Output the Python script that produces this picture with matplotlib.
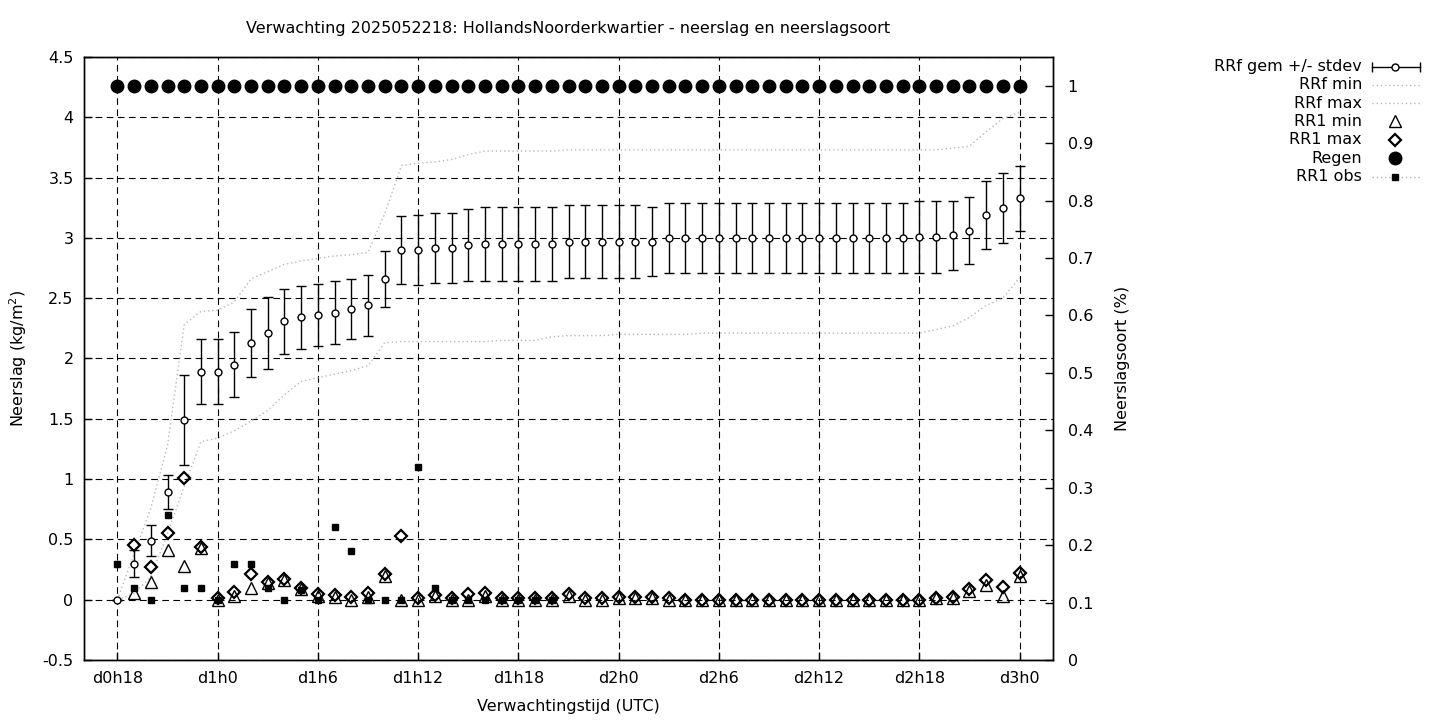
import numpy as np
import matplotlib
matplotlib.use("Agg")
import matplotlib.pyplot as plt
from matplotlib.lines import Line2D

plt.rcParams['font.family'] = ['DejaVu Sans']

# ---------------- data ----------------
hours = list(range(55))
xtick_hours = [0, 6, 12, 18, 24, 30, 36, 42, 48, 54]
xtick_labels = ["d0h18", "d1h0", "d1h6", "d1h12", "d1h18", "d2h0", "d2h6", "d2h12", "d2h18", "d3h0"]
left_ticks = [-0.5, 0, 0.5, 1, 1.5, 2, 2.5, 3, 3.5, 4, 4.5]
right_ticks = [0, 0.1, 0.2, 0.3, 0.4, 0.5, 0.6, 0.7, 0.8, 0.9, 1]

rrf_mean = [0.00, 0.30, 0.49, 0.89, 1.49, 1.89, 1.89, 1.95, 2.13, 2.21,
            2.31, 2.34, 2.36, 2.38, 2.41, 2.44, 2.66, 2.90, 2.90, 2.92,
            2.92, 2.94, 2.95, 2.95, 2.95, 2.95, 2.95, 2.97, 2.97, 2.97,
            2.97, 2.97, 2.97, 3.00, 3.00, 3.00, 3.00, 3.00, 3.00, 3.00,
            3.00, 3.00, 3.00, 3.00, 3.00, 3.00, 3.00, 3.00, 3.01, 3.01,
            3.02, 3.06, 3.19, 3.25, 3.33]
rrf_std = [0.00, 0.11, 0.13, 0.14, 0.37, 0.27, 0.27, 0.27, 0.28, 0.30,
           0.27, 0.26, 0.26, 0.26, 0.25, 0.25, 0.23, 0.28, 0.29, 0.29,
           0.29, 0.30, 0.31, 0.31, 0.31, 0.31, 0.31, 0.30, 0.30, 0.30,
           0.30, 0.30, 0.29, 0.29, 0.29, 0.29, 0.29, 0.29, 0.29, 0.29,
           0.29, 0.29, 0.29, 0.29, 0.29, 0.29, 0.29, 0.29, 0.30, 0.30,
           0.29, 0.28, 0.28, 0.29, 0.27]
rrf_min = [0.00, 0.05, 0.19, 0.55, 0.94, 1.31, 1.34, 1.40, 1.48, 1.57,
           1.70, 1.81, 1.84, 1.87, 1.90, 1.94, 2.13, 2.14, 2.14, 2.14,
           2.14, 2.14, 2.14, 2.15, 2.15, 2.15, 2.18, 2.19, 2.19, 2.19,
           2.20, 2.20, 2.20, 2.20, 2.20, 2.21, 2.21, 2.21, 2.21, 2.21,
           2.21, 2.21, 2.21, 2.21, 2.21, 2.21, 2.21, 2.21, 2.21, 2.24,
           2.27, 2.34, 2.44, 2.50, 2.67]
rrf_max = [0.00, 0.38, 0.76, 1.28, 2.28, 2.39, 2.40, 2.47, 2.66, 2.72,
           2.78, 2.81, 2.83, 2.85, 2.86, 2.88, 3.20, 3.60, 3.62, 3.63,
           3.65, 3.69, 3.72, 3.72, 3.72, 3.72, 3.72, 3.73, 3.73, 3.73,
           3.73, 3.73, 3.73, 3.73, 3.73, 3.73, 3.73, 3.73, 3.73, 3.73,
           3.73, 3.73, 3.73, 3.73, 3.73, 3.73, 3.73, 3.73, 3.73, 3.73,
           3.745, 3.76, 3.88, 3.99, 4.04]
rr1_min = [None, 0.055, 0.15, 0.41, 0.28, 0.43, 0.00, 0.03, 0.10, 0.14,
           0.16, 0.085, 0.03, 0.025, 0.00, 0.02, 0.195, 0.00, 0.00, 0.03,
           0.00, 0.00, 0.03, 0.00, 0.00, 0.00, 0.00, 0.03, 0.00, 0.00,
           0.01, 0.01, 0.01, 0.00, 0.00, 0.00, 0.00, 0.00, 0.00, 0.00,
           0.00, 0.00, 0.00, 0.00, 0.00, 0.00, 0.00, 0.00, 0.00, 0.01,
           0.01, 0.07, 0.12, 0.03, 0.20]
rr1_max = [None, 0.45, 0.27, 0.55, 1.01, 0.44, 0.01, 0.06, 0.215, 0.15,
           0.17, 0.10, 0.045, 0.04, 0.02, 0.055, 0.215, 0.53, 0.01, 0.035,
           0.015, 0.047, 0.055, 0.014, 0.014, 0.014, 0.014, 0.047, 0.01, 0.01,
           0.02, 0.02, 0.02, 0.01, 0.00, 0.00, 0.00, 0.00, 0.00, 0.00,
           0.00, 0.00, 0.00, 0.00, 0.00, 0.00, 0.00, 0.00, 0.00, 0.015,
           0.02, 0.09, 0.16, 0.105, 0.22]
regen = [1, 1, 1, 1, 1, 1, 1, 1, 1, 1, 1, 1, 1, 1, 1, 1, 1, 1, 1, 1,
         1, 1, 1, 1, 1, 1, 1, 1, 1, 1, 1, 1, 1, 1, 1, 1, 1, 1, 1, 1,
         1, 1, 1, 1, 1, 1, 1, 1, 1, 1, 1, 1, 1, 1, 1]
rr1_obs = [0.30, 0.10, 0.00, 0.70, 0.10, 0.10, 0.00, 0.30, 0.30, 0.10,
           0.00, 0.08, 0.00, 0.60, 0.40, 0.00, 0.00, 0.00, 1.10, 0.10,
           0.00, 0.00, 0.00, 0.00, 0.00, 0.00, 0.00]

title = "Verwachting 2025052218: HollandsNoorderkwartier - neerslag en neerslagsoort"
legend_labels = ["RRf gem +/- stdev", "RRf min", "RRf max", "RR1 min", "RR1 max", "Regen", "RR1 obs"]

# ---------------- style ----------------
FS = 11.5
W, H = 1440, 720
GREY = "#b8b8b8"
DOT = (0, (1, 2))

def fx(px):
    return px / W

def fy(py):
    return 1 - py / H

def fmt(v, pos=None):
    return f"{round(v, 3):g}"

fig = plt.figure(figsize=(14.4, 7.2), dpi=100)
ax = fig.add_axes([fx(84), fy(660), (1053 - 84) / W, (660 - 57) / H])
ax.set_xlim(-2, 56)
ax.set_ylim(-0.5, 4.5)

ax.set_xticks(xtick_hours, xtick_labels)
ax.set_yticks(left_ticks)
ax.yaxis.set_major_formatter(matplotlib.ticker.FuncFormatter(fmt))
ax.tick_params(axis='both', direction='in', length=6, width=1, labelsize=FS,
               top=False, right=False)
ax.tick_params(axis='x', pad=8)
ax.tick_params(axis='y', pad=7.5)
ax.grid(True, color='black', linestyle=(0, (6, 4)), linewidth=0.8)
ax.set_axisbelow(True)
for s in ax.spines.values():
    s.set_linewidth(1.0)
    s.set_color('black')

y_mean = np.array(rrf_mean, dtype=float)
y_std = np.array(rrf_std, dtype=float)
ax.errorbar(hours, y_mean, yerr=y_std, fmt='o', ms=5, mfc='white', mec='black', mew=1,
            ecolor='black', elinewidth=1, capsize=3.3, capthick=1, zorder=3)
ax.plot(hours, rrf_min, color=GREY, lw=1, linestyle=DOT, zorder=2)
ax.plot(hours, rrf_max, color=GREY, lw=1, linestyle=DOT, zorder=2)
ax.plot(hours, np.array(rr1_min, dtype=float), linestyle='none', marker='^', ms=9,
        mfc='none', mec='black', mew=1, zorder=4)
ax.plot(hours, np.array(rr1_max, dtype=float), linestyle='none', marker='D', ms=6.2,
        mfc='none', mec='black', mew=1.6, zorder=5)
ax.plot(hours[:len(rr1_obs)], rr1_obs, linestyle='none', marker='s', ms=4.6,
        color='black', zorder=6)

ax2 = ax.twinx()
ax2.set_ylim(0, 1.05)
ax2.set_yticks(right_ticks)
ax2.yaxis.set_major_formatter(matplotlib.ticker.FuncFormatter(fmt))
ax2.tick_params(axis='y', direction='in', length=6, width=1, labelsize=FS, pad=10.5)
for s in ax2.spines.values():
    s.set_linewidth(1.0)
ax2.plot(hours, regen, linestyle='none', marker='o', ms=9, color='black', zorder=5)

# ---------------- texts ----------------
fig.text(fx(568.5), fy(29), title, ha='center', va='center', fontsize=FS)
fig.text(fx(568.5), fy(706), "Verwachtingstijd (UTC)", ha='center', va='center', fontsize=FS)
fig.text(fx(18), fy(358), "Neerslag (kg/m$^2$)", ha='center', va='center', rotation=90, fontsize=FS)
fig.text(fx(1123), fy(358), "Neerslagsoort (%)", ha='center', va='center', rotation=90, fontsize=FS)

# ---------------- legend (gnuplot style) ----------------
rows = [66.5, 84.8, 103.1, 121.4, 139.7, 158.0, 176.8]
tx = 1362
sx0, sx1, sxc = 1372, 1420, 1395
for lab, ry in zip(legend_labels, rows):
    fig.text(fx(tx), fy(ry), lab, ha='right', va='center', fontsize=FS)

tf = fig.transFigure
r = rows
# errorbar sample
fig.add_artist(Line2D([fx(sx0), fx(sx1)], [fy(r[0]), fy(r[0])], color='black', lw=1, transform=tf))
fig.add_artist(Line2D([fx(sx0), fx(sx1)], [fy(r[0]), fy(r[0])], linestyle='none', marker='|',
                      ms=7, mew=1, color='black', transform=tf))
fig.add_artist(Line2D([fx(sxc)], [fy(r[0])], linestyle='none', marker='o', ms=5, mfc='white',
                      mec='black', mew=1, transform=tf))
# min / max lines
for k in (1, 2):
    fig.add_artist(Line2D([fx(sx0), fx(sx1)], [fy(r[k]), fy(r[k])], color=GREY, lw=1,
                          linestyle=DOT, transform=tf))
fig.add_artist(Line2D([fx(sxc)], [fy(r[3])], linestyle='none', marker='^', ms=9, mfc='none',
                      mec='black', mew=1, transform=tf))
fig.add_artist(Line2D([fx(sxc)], [fy(r[4])], linestyle='none', marker='D', ms=6.2, mfc='none',
                      mec='black', mew=1.6, transform=tf))
fig.add_artist(Line2D([fx(sxc)], [fy(r[5])], linestyle='none', marker='o', ms=9,
                      color='black', transform=tf))
fig.add_artist(Line2D([fx(sx0), fx(sx1)], [fy(r[6]), fy(r[6])], color=GREY, lw=1,
                      linestyle=DOT, transform=tf))
fig.add_artist(Line2D([fx(sxc)], [fy(r[6])], linestyle='none', marker='s', ms=4.6,
                      color='black', transform=tf))

fig.savefig("out.png", dpi=100)
